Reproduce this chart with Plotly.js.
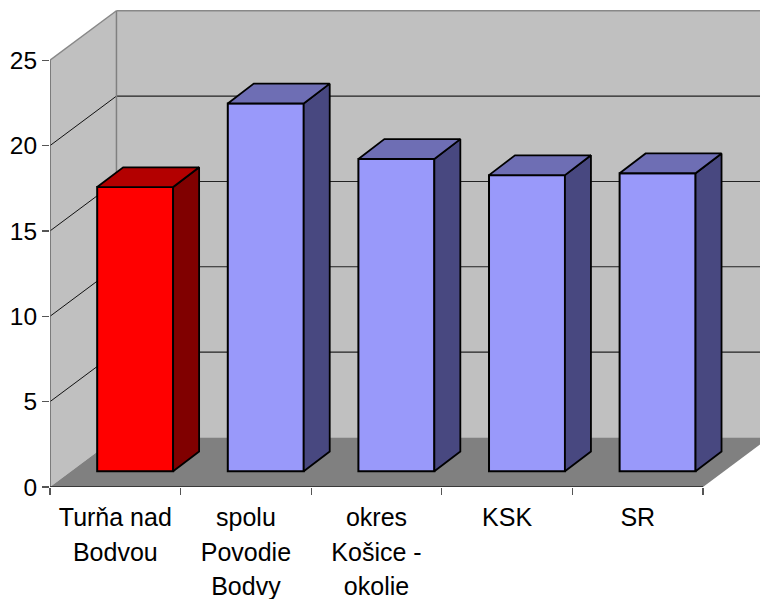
<!DOCTYPE html>
<html>
<head>
<meta charset="utf-8">
<script src="https://cdn.plot.ly/plotly-3.0.1.min.js"></script>
<style>html,body{margin:0;padding:0;background:#fff}#chart{width:760px;height:599px}</style>
</head>
<body>
<div id="chart"></div>
<script>
var categories = ["Turňa nad<br>Bodvou", "spolu<br>Povodie<br>Bodvy", "okres<br>Košice -<br>okolie", "KSK", "SR"];
var values = [16.65, 21.55, 18.3, 17.35, 17.46];
var yTicks = [0, 5, 10, 15, 20, 25];
var frontColors = ["#FF0000", "#9999FA", "#9999FA", "#9999FA", "#9999FA"];
var sideColors = ["#800000", "#484880", "#484880", "#484880", "#484880"];
var topColors = ["#B30000", "#6E6EB4", "#6E6EB4", "#6E6EB4", "#6E6EB4"];

// projection of the 3D box, in axis units
var pxPerCat = 130.7, pxPerVal = 17.07;
var wallDX = 66.5 / pxPerCat, wallDY = 49.5 / pxPerVal;
var barDX = 26 / pxPerCat, barDY = 19.8 / pxPerVal;
var barBase = 15.7 / pxPerVal, barCenter = 0.652, barWidth = 0.5815;
var n = categories.length, yMaxTick = yTicks[yTicks.length - 1];

function poly(pts) {
  return "M" + pts.map(function (p) { return p[0] + "," + p[1]; }).join("L") + "Z";
}
function line(x0, y0, x1, y1, color, width) {
  return {type: "line", layer: "below", xref: "x", yref: "y", x0: x0, y0: y0, x1: x1, y1: y1,
          line: {color: color, width: width}};
}
function fillShape(pts, color) {
  return {type: "path", layer: "below", xref: "x", yref: "y", path: poly(pts), fillcolor: color, line: {width: 0}};
}

var shapes = [
  fillShape([[0, 0], [0, yMaxTick], [wallDX, yMaxTick + wallDY], [wallDX, wallDY]], "#C0C0C0"),
  fillShape([[wallDX, wallDY], [wallDX, yMaxTick + wallDY], [n + wallDX, yMaxTick + wallDY], [n + wallDX, wallDY]], "#C0C0C0"),
  fillShape([[0, 0], [wallDX, wallDY], [n + wallDX, wallDY], [n, 0]], "#808080")
];
yTicks.forEach(function (t) {
  if (t > 0 && t < yMaxTick) {
    shapes.push(line(0, t, wallDX, t + wallDY, "#111111", 1));
    shapes.push(line(wallDX, t + wallDY, n + wallDX, t + wallDY, "#222222", 1.1));
  }
});
shapes.push(line(0, yMaxTick, wallDX, yMaxTick + wallDY, "#888888", 1.5));
shapes.push(line(wallDX, yMaxTick + wallDY, n + wallDX, yMaxTick + wallDY, "#888888", 1.5));
shapes.push(line(wallDX, wallDY, wallDX, yMaxTick + wallDY, "#808080", 1.5));
shapes.push(line(0, 0, 0, yMaxTick, "#666666", 1.5));
shapes.push(line(0, 0, n, 0, "#222222", 1.5));

var centers = values.map(function (v, i) { return i + barCenter; });
var traces = [{
  type: "bar", x: centers, y: values, base: values.map(function () { return barBase; }),
  width: barWidth, marker: {color: frontColors, line: {color: "#000000", width: 2}},
  hoverinfo: "skip", showlegend: false
}];
values.forEach(function (v, i) {
  var l = centers[i] - barWidth / 2, r = centers[i] + barWidth / 2, b = barBase, t = barBase + v;
  traces.push({
    type: "scatter", mode: "lines", fill: "toself", fillcolor: sideColors[i],
    x: [r, r + barDX, r + barDX, r, r], y: [b, b + barDY, t + barDY, t, b],
    line: {color: "#000000", width: 1.8}, hoverinfo: "skip", showlegend: false
  });
  traces.push({
    type: "scatter", mode: "lines", fill: "toself", fillcolor: topColors[i],
    x: [l, l + barDX, r + barDX, r, l], y: [t, t + barDY, t + barDY, t, t],
    line: {color: "#000000", width: 1.8}, hoverinfo: "skip", showlegend: false
  });
});

var layout = {
  width: 760, height: 599, paper_bgcolor: "#FFFFFF", plot_bgcolor: "#FFFFFF",
  margin: {l: 49.5, r: 0, t: 0, b: 112, pad: 0},
  font: {family: "Liberation Sans, Arial, sans-serif", size: 25, color: "#000000"},
  bargap: 0, showlegend: false, shapes: shapes,
  xaxis: {
    range: [0, 710.5 / pxPerCat], showgrid: false, zeroline: false, showline: false,
    tickmode: "array", tickvals: categories.map(function (c, i) { return i + 0.5; }), ticktext: categories,
    ticks: "", tickangle: 0, ticklabelstandoff: 13, tickfont: {size: 25, color: "#000000"},
    minor: {tickmode: "array", tickvals: [0, 1, 2, 3, 4, 5], ticks: "outside", ticklen: 7, tickwidth: 1.2, tickcolor: "#555555", showgrid: false}
  },
  yaxis: {
    range: [0, 487 / pxPerVal], showgrid: false, zeroline: false, showline: false,
    tickmode: "array", tickvals: yTicks, ticktext: yTicks.map(String),
    ticks: "outside", ticklen: 7, tickwidth: 1.2, tickcolor: "#555555", tickfont: {size: 24.5, color: "#000000"}
  }
};

Plotly.newPlot("chart", traces, layout, {staticPlot: true, displayModeBar: false}).then(function () {
  document.querySelectorAll(".xtick text tspan.line").forEach(function (t) {
    var dy = parseFloat(t.getAttribute("dy"));
    if (dy) { t.setAttribute("dy", (dy * 1.068) + "em"); }
  });
});
</script>
</body>
</html>
